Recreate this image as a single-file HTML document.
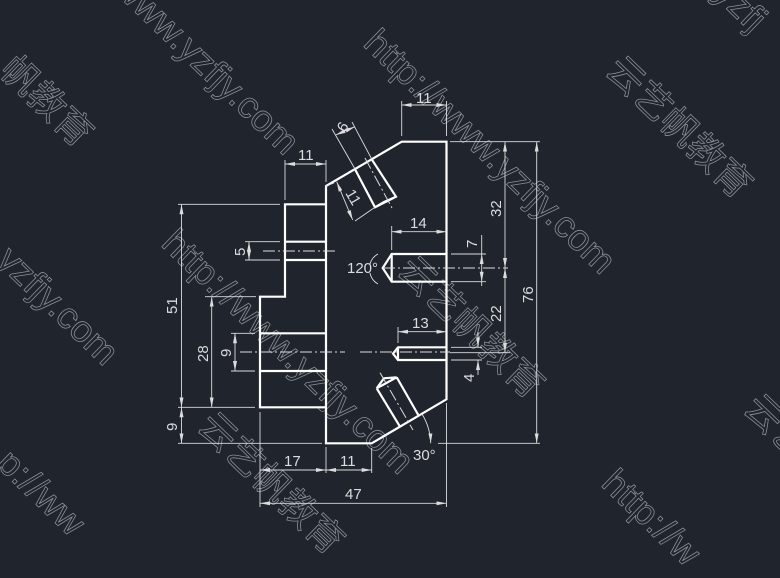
<!DOCTYPE html>
<html><head><meta charset="utf-8"><style>
html,body{margin:0;padding:0;background:#1f242d;}
svg{display:block}
.wm{fill:none;stroke:#8a8f96;stroke-width:0.8;font-family:"Liberation Sans","Noto Sans CJK SC",sans-serif;font-size:37px;}
.t{fill:#dcdcdc;font-family:"Liberation Sans",sans-serif;font-size:15px;}
</style></head><body>
<svg width="780" height="578" viewBox="0 0 780 578" xmlns="http://www.w3.org/2000/svg">
<defs>
<marker id="a" viewBox="0 0 10 4" refX="10" refY="2" markerWidth="10" markerHeight="4" orient="auto-start-reverse" markerUnits="userSpaceOnUse"><path d="M0,0 L10,2 L0,4z" fill="#dcdcdc"/></marker>
</defs>
<rect width="780" height="578" fill="#1f242d"/>
<g class="wm">
<text transform="translate(362,45) rotate(44)">http://www.yzfjy.com</text>
<text transform="translate(160,245) rotate(44)">http://www.yzfjy.com</text>
<text transform="translate(112,-10) rotate(44)">www.yzfjy.com</text>
<text transform="translate(-5,262) rotate(44)">yzfjy.com</text>
<text transform="translate(600,485) rotate(44)">http://w</text>
<text transform="translate(-5,465) rotate(44)">p://ww</text>
<text transform="translate(712,-5) rotate(44)">yzfj</text>
<text transform="translate(604,72) rotate(44)">云艺帆教育</text>
<text transform="translate(-2,72) rotate(44)">帆教育</text>
<text transform="translate(396,272) rotate(44)">云艺帆教育</text>
<text transform="translate(196,428) rotate(44)">云艺帆教育</text>
<text transform="translate(742,410) rotate(44)">云艺</text>
</g>
<g fill="none" stroke="#fff" stroke-width="2.2">
<path d="M401.7,141.7 L446.5,141.7 L446.5,399.3 L371.7,443.3 L326,443.3 L326,186 Z"/>
<path d="M326,204.3 L285,204.3 L285,296.7 L260,296.7 L260,407.3 L326,407.3"/>
<path d="M285,241.7 H326 M285,260 H326 M260,333.3 H326 M260,371 H326"/>
<path d="M446.5,254 H391.7 L382.7,268 L391.7,281.7 H446.5 M391.7,254 V281.7"/>
<path d="M446.5,347.3 H398 L393,353.6 L398,360 H446.5 M398,347.3 V360"/>
<path d="M355,169.3 L375,207.3 L396,196.7 L371.7,159.3 M375,207.3 L384,202 L396,196.7"/>
<path d="M376.7,388.3 L400,426.7 M396.7,377.3 L418.3,415 M376.7,388.3 L384,378.3 L396.7,377.3 M376.7,388.3 L396.7,377.3"/>
</g>
<g stroke="#dcdcdc" stroke-width="1" stroke-dasharray="12,3,2,3" fill="none">
<path d="M263,251 H338"/>
<path d="M240,352 H345 M360,352 H450"/>
<path d="M383,268 H508"/>
<path d="M365,158 L392,208"/>
<path d="M380,372.7 L413,430"/>
</g>
<g stroke="#dcdcdc" stroke-width="0.9" fill="none">
<path d="M401.7,136 V101 M446.5,136 V101"/>
<path d="M401.7,105 H446.5" marker-start="url(#a)" marker-end="url(#a)"/>
<path d="M285,200 V160 M326,182 V160"/>
<path d="M285,164 H326" marker-start="url(#a)" marker-end="url(#a)"/>
<path d="M355,169 L332,129 M371.7,159 L352,122"/>
<path d="M335.7,135 L355,126.7" marker-start="url(#a)" marker-end="url(#a)"/>
<path d="M326,186 L334,183 M375,207.3 L355,221"/>
<path d="M336.7,181.7 L352.7,220" marker-start="url(#a)" marker-end="url(#a)"/>
<path d="M178,204.3 H280 M178,443.3 H322 M178,407.3 H255 M205,296.7 H256"/>
<path d="M181.5,204.3 V407.3" marker-start="url(#a)" marker-end="url(#a)"/>
<path d="M181.5,407.3 V443.3" marker-start="url(#a)" marker-end="url(#a)"/>
<path d="M211.7,296.7 V407.3" marker-start="url(#a)" marker-end="url(#a)"/>
<path d="M231,333.3 H255 M231,371 H255"/>
<path d="M235,333.3 V371" marker-start="url(#a)" marker-end="url(#a)"/>
<path d="M245,241.7 H280 M245,260 H280"/>
<path d="M249,241.7 V260" marker-start="url(#a)" marker-end="url(#a)"/>
<path d="M391.7,250 V226"/>
<path d="M391.7,231.7 H446.5" marker-start="url(#a)" marker-end="url(#a)"/>
<path d="M451,254 H486 M451,281.7 H486 M481.7,235 V254 M481.7,281.7 V286"/>
<path d="M481.7,254 V281.7" marker-start="url(#a)" marker-end="url(#a)"/>
<path d="M450,141.7 H540 M438,443.3 H540"/>
<path d="M505,141.7 V268" marker-start="url(#a)" marker-end="url(#a)"/>
<path d="M505,268 V352.7" marker-start="url(#a)" marker-end="url(#a)"/>
<path d="M450,352.7 H510"/>
<path d="M536.7,141.7 V443.3" marker-start="url(#a)" marker-end="url(#a)"/>
<path d="M398,343 V327"/>
<path d="M398,331.7 H446.5" marker-start="url(#a)" marker-end="url(#a)"/>
<path d="M451,347.3 H482 M451,360 H482"/>
<path d="M478,332 V347.3" marker-end="url(#a)"/>
<path d="M478,375 V360" marker-end="url(#a)"/>
<path d="M260,412 V507 M326,447 V473 M371.7,448 V473 M446.5,403 V507"/>
<path d="M260,470 H326" marker-start="url(#a)" marker-end="url(#a)"/>
<path d="M326,470 H371.7" marker-start="url(#a)" marker-end="url(#a)"/>
<path d="M260,503.3 H446.5" marker-start="url(#a)" marker-end="url(#a)"/>
<path d="M422,414 A59,59 0 0 1 430.7,443.3" marker-end="url(#a)"/>
<path d="M378,254 A16,16 0 0 0 370,264 M370,273 A16,16 0 0 0 378,284"/>
</g>
<g class="t">
<text x="416" y="103">11</text>
<text x="298" y="160">11</text>
<text transform="translate(345,133) rotate(-60)">6</text>
<text transform="translate(345,193) rotate(60)">11</text>
<text transform="translate(177,314) rotate(-90)">51</text>
<text transform="translate(177,431) rotate(-90)">9</text>
<text transform="translate(208,362) rotate(-90)">28</text>
<text transform="translate(231,357) rotate(-90)">9</text>
<text transform="translate(245,256) rotate(-90)">5</text>
<text x="410" y="228">14</text>
<text transform="translate(477,248) rotate(-90)">7</text>
<text x="347" y="273">120°</text>
<text transform="translate(501,217) rotate(-90)">32</text>
<text transform="translate(501,322) rotate(-90)">22</text>
<text transform="translate(533,303) rotate(-90)">76</text>
<text x="412" y="328">13</text>
<text transform="translate(474,382) rotate(-90)">4</text>
<text x="284" y="466">17</text>
<text x="340" y="466">11</text>
<text x="413" y="460">30°</text>
<text x="345" y="499">47</text>
</g>
</svg>
</body></html>
